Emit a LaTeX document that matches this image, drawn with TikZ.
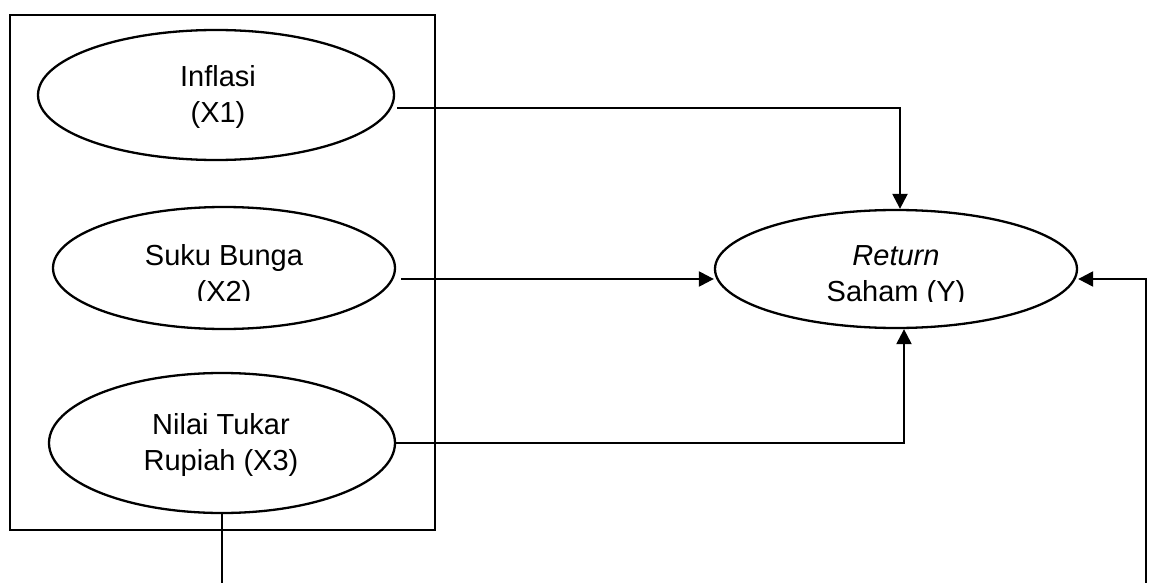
\documentclass[tikz,border=0pt]{standalone}
\usepackage{fontspec}
\setmainfont{Liberation Sans}
\usetikzlibrary{shapes.geometric,arrows.meta,calc}
\begin{document}
\begin{tikzpicture}[x=1pt,y=-1pt,
  line width=2.3pt,
  var/.style={draw,ellipse,inner sep=0pt},
  lbl/.style={align=center,inner sep=0pt,font=\fontsize{29pt}{36pt}\selectfont},
  arr/.style={-{Triangle[length=15pt,width=15pt]}}]
\useasboundingbox (0,0) rectangle (1149,583);
\node[draw,minimum width=425pt,minimum height=515pt,inner sep=0pt] (box) at (222.5,272.5) {};
\node[var,minimum width=356pt,minimum height=130pt] (inf) at (216,95) {};
\node[lbl] (tinf) at (218,97) {Inflasi\\ (X1)};
\node[var,minimum width=342pt,minimum height=122pt] (suk) at (224,268) {};
\begin{scope}
  \clip (60,230) rectangle (390,300);
  \node[lbl] (tsuk) at (224,276) {Suku Bunga\\(X2)};
\end{scope}
\node[var,minimum width=346pt,minimum height=140pt] (nil) at (222,443) {};
\node[lbl] (tnil) at (221,445) {Nilai Tukar\\Rupiah (X3)};
\node[var,minimum width=362pt,minimum height=118pt] (ret) at (896,269) {};
\begin{scope}
  \clip (730,230) rectangle (1060,301);
  \node[lbl] (tret) at (896,277) {\textit{Return}\\Saham (Y)};
\end{scope}
\coordinate (nb) at (nil.south |- 0,583);
\coordinate (rb) at (1146,583);
\draw[arr] ([xshift=2pt,yshift=-13pt]inf.east) -| ([xshift=4pt]ret.north);
\draw[arr] ([xshift=5pt,yshift=-11pt]suk.east) -- ([yshift=-10pt]ret.west);
\draw[arr] (nil.east) -| ([xshift=8pt]ret.south);
\draw[arr] (rb) |- ([yshift=-10pt]ret.east);
\draw (nil.south) -- (nb);
\end{tikzpicture}
\end{document}
